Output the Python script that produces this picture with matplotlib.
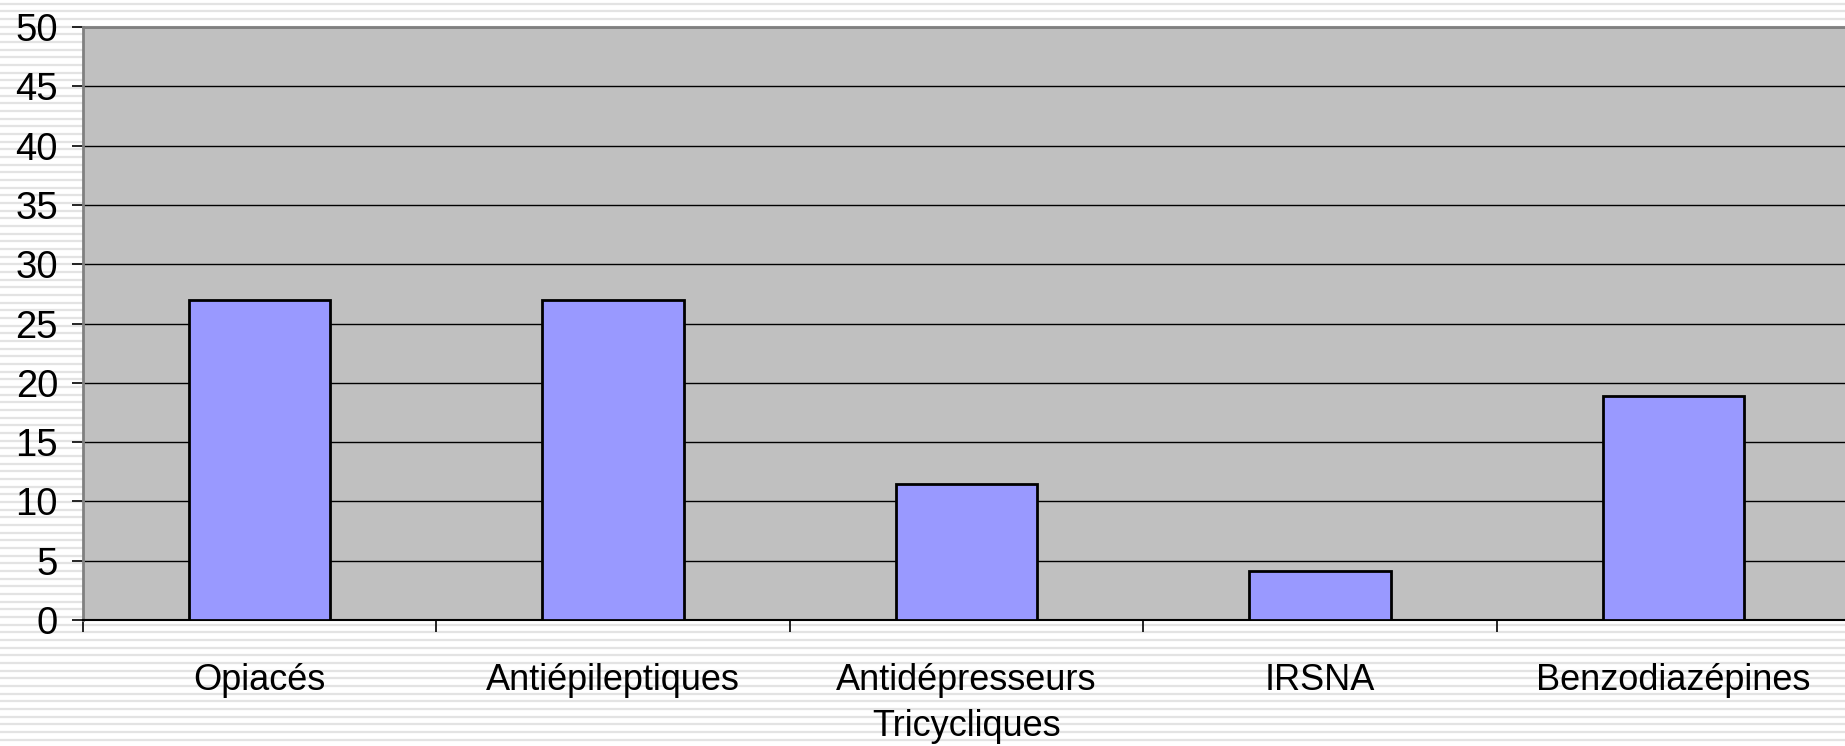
import numpy as np
import matplotlib.pyplot as plt

categories = ["Opiacés", "Antiépileptiques", "Antidépresseurs\nTricycliques", "IRSNA", "Benzodiazépines"]
values = [27, 27, 11.5, 4.1, 18.9]

plt.rcParams['font.family'] = ['Liberation Sans', 'DejaVu Sans']

W, H = 1845, 746
fig = plt.figure(figsize=(W / 100, H / 100), dpi=100)

# striped page background
bg = fig.add_axes([0, 0, 1, 1])
bg.set_xlim(0, W)
bg.set_ylim(H, 0)
bg.axis('off')
bg.hlines(np.arange(3.5, H, 7.67), 0, W, color='#e3e3e3', lw=1.6)

# plot area
left, top, bottom = 83, 27, 620
ax = fig.add_axes([left / W, (H - bottom) / H, (W - left + 5) / W, (bottom - top) / H])
ax.set_facecolor('#c0c0c0')

x = np.arange(len(categories))
ax.bar(x, values, width=0.4, color='#9999ff', edgecolor='black', lw=2, zorder=3)

ax.set_xlim(-0.5, len(categories) - 0.5)
ax.set_ylim(0, 50)
ax.set_yticks(range(0, 51, 5))
ax.yaxis.grid(True, color='black', lw=1)
ax.set_axisbelow(True)

ax.set_xticks(x)
ax.set_xticklabels(categories, fontsize=26, linespacing=1.4)
ax.set_xticks(np.arange(-0.5, len(categories), 1), minor=True)
ax.tick_params(axis='x', which='major', length=0, pad=31)
ax.tick_params(axis='x', which='minor', length=8.5, width=1.2, color='black')
ax.tick_params(axis='y', length=8, width=1.2, labelsize=27.5, pad=10)

for s in ['top', 'left']:
    ax.spines[s].set_color('#808080')
    ax.spines[s].set_linewidth(2)
ax.spines['right'].set_visible(False)
ax.spines['bottom'].set_color('black')
ax.spines['bottom'].set_linewidth(1.5)

fig.savefig('out.png', dpi=100)
